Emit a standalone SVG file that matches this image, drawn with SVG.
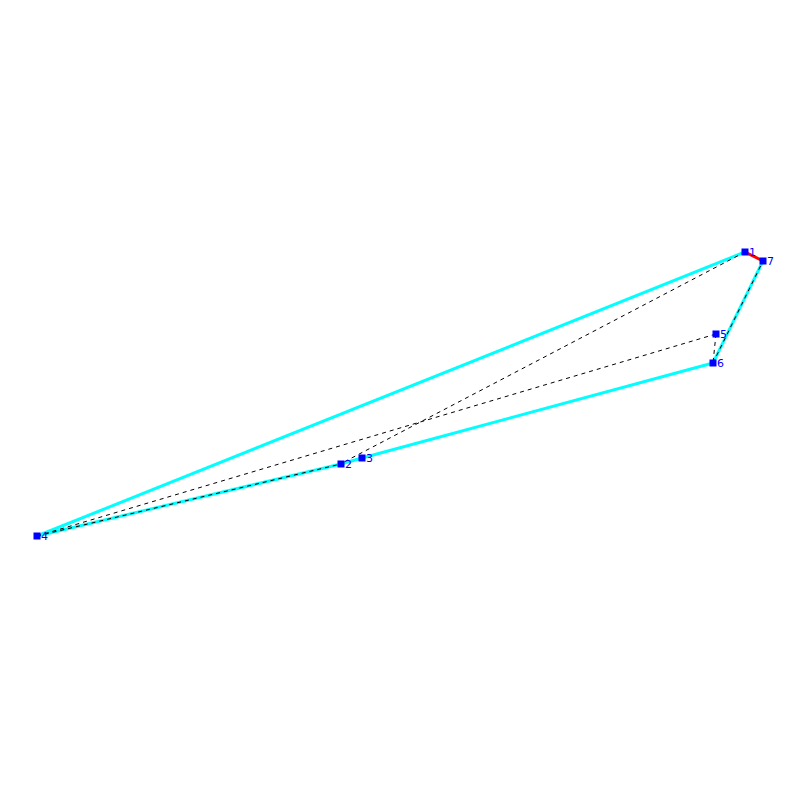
<svg xmlns="http://www.w3.org/2000/svg" width="800" height="800" viewBox="0 0 800 800">
<style>
.c{stroke:#00ffff;stroke-width:3;fill:none}
.r{stroke:#ff0000;stroke-width:3;fill:none}
.d{stroke:#000;stroke-width:1;stroke-dasharray:4,4;fill:none}
.n rect{fill:#0000ff}
.n text{fill:#0000ff;font-family:"DejaVu Sans",sans-serif;font-size:11px}
</style>
<rect width="800" height="800" fill="#fff"/>
<g id="connectors">
<line class="c" x1="37" y1="536" x2="745" y2="252"/>
<line class="c" x1="37" y1="536" x2="341" y2="464"/>
<line class="c" x1="341" y1="464" x2="362" y2="458"/>
<line class="c" x1="362" y1="458" x2="713" y2="363"/>
<line class="c" x1="713" y1="363" x2="763" y2="261"/>
<line class="r" x1="745" y1="252" x2="763" y2="261"/>
<line class="d" x1="745" y1="252" x2="344" y2="462"/>
<line class="d" x1="37" y1="536" x2="716" y2="334"/>
<line class="d" x1="716" y1="334" x2="713" y2="363"/>
<line class="d" x1="713" y1="363" x2="763" y2="261"/>
<line class="d" x1="37" y1="536" x2="341" y2="464"/>
</g>
<g id="node1" class="n"><rect x="741.5" y="248.5" width="7" height="7"/><text x="749" y="256">1</text></g>
<g id="node7" class="n"><rect x="759.5" y="257.5" width="7" height="7"/><text x="767" y="265">7</text></g>
<g id="node5" class="n"><rect x="712.5" y="330.5" width="7" height="7"/><text x="720" y="338">5</text></g>
<g id="node6" class="n"><rect x="709.5" y="359.5" width="7" height="7"/><text x="717" y="367">6</text></g>
<g id="node2" class="n"><rect x="337.5" y="460.5" width="7" height="7"/><text x="345" y="468">2</text></g>
<g id="node3" class="n"><rect x="358.5" y="454.5" width="7" height="7"/><text x="366" y="462">3</text></g>
<g id="node4" class="n"><rect x="33.5" y="532.5" width="7" height="7"/><text x="41" y="540">4</text></g>
</svg>
